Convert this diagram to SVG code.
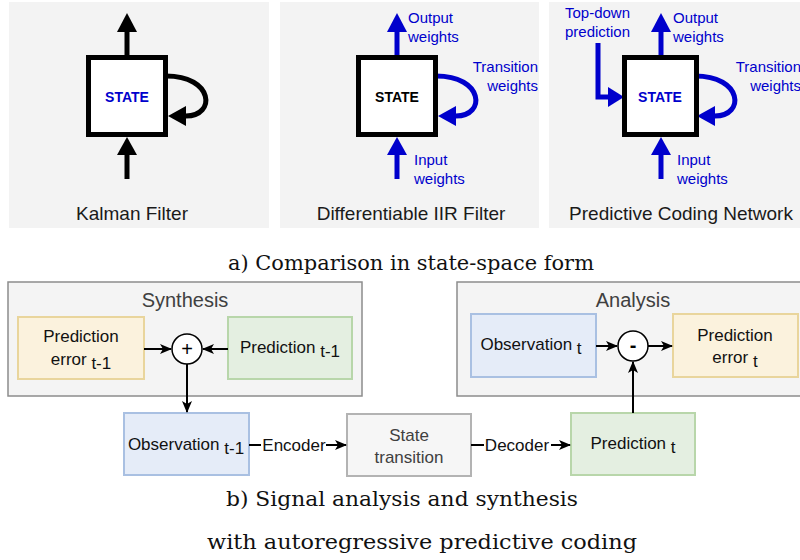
<svg xmlns="http://www.w3.org/2000/svg" width="800" height="560" viewBox="0 0 800 560">
  <defs>
    <style>
      .panel { fill: #f3f3f3; stroke: none; }
      .state { fill: #ffffff; stroke: #000000; stroke-width: 5; }
      .statelbl { font-family: "Liberation Sans", Arial, sans-serif; font-size: 14px; font-weight: bold; text-anchor: middle; }
      .cap { font-family: "Liberation Sans", Arial, sans-serif; font-size: 19px; fill: #1a1a1a; text-anchor: middle; }
      .blue { font-family: "Liberation Sans", Arial, sans-serif; font-size: 15px; fill: #0000cc; }
      .kline { stroke: #000000; stroke-width: 5; fill: none; }
      .bline { stroke: #0000cc; stroke-width: 5; fill: none; }
      .khead { fill: #000000; }
      .bhead { fill: #0000cc; }
      .group { fill: #f4f4f4; stroke: #8c8c8c; stroke-width: 1.5; }
      .title { font-family: "Liberation Sans", Arial, sans-serif; font-size: 20px; fill: #404040; text-anchor: middle; }
      .yellow { fill: #fbf2dd; stroke: #e9d59c; stroke-width: 2; }
      .green { fill: #e4efe1; stroke: #b8d6aa; stroke-width: 2; }
      .blu { fill: #e5ecf8; stroke: #a9c0e2; stroke-width: 2; }
      .grey { fill: #f6f6f6; stroke: #b3b3b3; stroke-width: 2; }
      .op { fill: #ffffff; stroke: #000000; stroke-width: 1.5; }
      .opsign { font-family: "Liberation Sans", Arial, sans-serif; font-size: 20px; fill: #000000; text-anchor: middle; }
      .lbl { font-family: "Liberation Sans", Arial, sans-serif; font-size: 17px; fill: #111111; text-anchor: middle; }
      .lblg { font-family: "Liberation Sans", Arial, sans-serif; font-size: 17px; fill: #404040; text-anchor: middle; }
      .edge { stroke: #000000; stroke-width: 2; fill: none; }
      .serif { font-family: "DejaVu Serif", "Liberation Serif", serif; font-size: 20px; fill: #111111; text-anchor: middle; }
    </style>
    <marker id="arr" viewBox="0 0 12 10" refX="11" refY="5" markerWidth="12" markerHeight="10" markerUnits="userSpaceOnUse" orient="auto">
      <path d="M0,0 L12,5 L0,10 L3,5 z" fill="#000000"/>
    </marker>
  </defs>

  <!-- a) state-space panels -->
  <g id="panel-kalman">
    <rect class="panel" x="9" y="2" width="260" height="226"/>
    <line class="kline" x1="127" y1="57" x2="127" y2="31"/>
    <polygon class="khead" points="117,32 137,32 127,13"/>
    <line class="kline" x1="127" y1="179" x2="127" y2="154"/>
    <polygon class="khead" points="117,155 137,155 127,137"/>
    <path class="kline" d="M166,76 C214,76 216,116 186,116"/>
    <polygon class="khead" points="186,106 186,126 168,116"/>
    <rect class="state" x="88.5" y="57.5" width="77" height="77"/>
    <text class="statelbl" x="127" y="102" fill="#0000cc">STATE</text>
    <text class="cap" x="132" y="220">Kalman Filter</text>
  </g>

  <g id="panel-iir">
    <rect class="panel" x="280" y="2" width="259" height="226"/>
    <line class="bline" x1="397" y1="57" x2="397" y2="31"/>
    <polygon class="bhead" points="387,32 407,32 397,13"/>
    <line class="bline" x1="397" y1="179" x2="397" y2="154"/>
    <polygon class="bhead" points="387,155 407,155 397,137"/>
    <path class="bline" d="M436,76 C484,76 486,116 456,116"/>
    <polygon class="bhead" points="456,106 456,126 438,116"/>
    <rect class="state" x="358.5" y="57.5" width="77" height="77"/>
    <text class="statelbl" x="397" y="102" fill="#000000">STATE</text>
    <text class="blue" x="408" y="23">Output</text>
    <text class="blue" x="408" y="42">weights</text>
    <text class="blue" x="538" y="72" text-anchor="end">Transition</text>
    <text class="blue" x="538" y="91" text-anchor="end">weights</text>
    <text class="blue" x="414" y="165">Input</text>
    <text class="blue" x="414" y="184">weights</text>
    <text class="cap" x="411" y="220">Differentiable IIR Filter</text>
  </g>

  <g id="panel-pcn">
    <rect class="panel" x="549" y="2" width="251" height="226"/>
    <line class="bline" x1="661" y1="57" x2="661" y2="31"/>
    <polygon class="bhead" points="651,32 671,32 661,13"/>
    <line class="bline" x1="661" y1="179" x2="661" y2="154"/>
    <polygon class="bhead" points="651,155 671,155 661,137"/>
    <path class="bline" d="M695,76 C743,76 745,116 715,116"/>
    <polygon class="bhead" points="715,106 715,126 697,116"/>
    <path class="bline" d="M598,43 L598,97 L609,97"/>
    <polygon class="bhead" points="608,87 608,107 624,97"/>
    <rect class="state" x="624.5" y="57.5" width="72" height="77"/>
    <text class="statelbl" x="660" y="102" fill="#0000cc">STATE</text>
    <text class="blue" x="565" y="18">Top-down</text>
    <text class="blue" x="565" y="37">prediction</text>
    <text class="blue" x="673" y="23">Output</text>
    <text class="blue" x="673" y="42">weights</text>
    <text class="blue" x="801" y="72" text-anchor="end">Transition</text>
    <text class="blue" x="801" y="91" text-anchor="end">weights</text>
    <text class="blue" x="677" y="165">Input</text>
    <text class="blue" x="677" y="184">weights</text>
    <text class="cap" x="681" y="220">Predictive Coding Network</text>
  </g>

  <text class="serif" x="411" y="270" textLength="366" lengthAdjust="spacingAndGlyphs">a) Comparison in state-space form</text>

  <!-- b) analysis / synthesis -->
  <g id="synthesis">
    <rect class="group" x="8" y="282" width="354" height="114"/>
    <text class="title" x="185" y="307">Synthesis</text>
  </g>
  <g id="analysis">
    <rect class="group" x="457" y="282" width="360" height="114"/>
    <text class="title" x="633" y="307">Analysis</text>
  </g>

  <g id="pred-error-prev">
    <rect class="yellow" x="18" y="317" width="126" height="62"/>
    <text class="lbl" x="81" y="342">Prediction</text>
    <text class="lbl" x="81" y="365">error<tspan dy="4"> t-1</tspan></text>
  </g>
  <g id="sum">
    <circle class="op" cx="187" cy="349" r="15"/>
    <text class="opsign" x="187" y="356">+</text>
  </g>
  <g id="prediction-prev">
    <rect class="green" x="228" y="317" width="124" height="62"/>
    <text class="lbl" x="290" y="353">Prediction<tspan dy="4"> t-1</tspan></text>
  </g>
  <g id="observation-prev">
    <rect class="blu" x="124" y="413" width="125" height="62"/>
    <text class="lbl" x="186" y="450">Observation<tspan dy="4"> t-1</tspan></text>
  </g>
  <g id="state-transition">
    <rect class="grey" x="347" y="414" width="124" height="62"/>
    <text class="lblg" x="409" y="441">State</text>
    <text class="lblg" x="409" y="463">transition</text>
  </g>
  <g id="prediction-now">
    <rect class="green" x="571" y="413" width="124" height="62"/>
    <text class="lbl" x="633" y="449">Prediction<tspan dy="4"> t</tspan></text>
  </g>
  <g id="observation-now">
    <rect class="blu" x="471" y="314" width="125" height="63"/>
    <text class="lbl" x="531" y="350">Observation<tspan dy="4"> t</tspan></text>
  </g>
  <g id="difference">
    <circle class="op" cx="633" cy="346" r="15"/>
    <text class="opsign" x="633" y="352" font-weight="bold">-</text>
  </g>
  <g id="pred-error-now">
    <rect class="yellow" x="673" y="314" width="125" height="63"/>
    <text class="lbl" x="735" y="341">Prediction</text>
    <text class="lbl" x="735" y="363">error<tspan dy="4"> t</tspan></text>
  </g>

  <g id="connectors">
    <line class="edge" x1="144" y1="349" x2="171" y2="349" marker-end="url(#arr)"/>
    <line class="edge" x1="228" y1="349" x2="203" y2="349" marker-end="url(#arr)"/>
    <line class="edge" x1="187" y1="364" x2="187" y2="412" marker-end="url(#arr)"/>
    <line class="edge" x1="249" y1="445" x2="346" y2="445" marker-end="url(#arr)"/>
    <rect x="261" y="434" width="65" height="22" fill="#ffffff"/>
    <text class="lbl" x="294" y="451">Encoder</text>
    <line class="edge" x1="471" y1="445" x2="570" y2="445" marker-end="url(#arr)"/>
    <rect x="484" y="434" width="67" height="22" fill="#ffffff"/>
    <text class="lbl" x="517" y="451">Decoder</text>
    <line class="edge" x1="633" y1="413" x2="633" y2="362" marker-end="url(#arr)"/>
    <line class="edge" x1="596" y1="346" x2="617" y2="346" marker-end="url(#arr)"/>
    <line class="edge" x1="648" y1="346" x2="672" y2="346" marker-end="url(#arr)"/>
  </g>

  <text class="serif" x="402" y="506" textLength="352" lengthAdjust="spacingAndGlyphs">b) Signal analysis and synthesis</text>
  <text class="serif" x="422" y="549" textLength="430" lengthAdjust="spacingAndGlyphs">with autoregressive predictive coding</text>
</svg>
